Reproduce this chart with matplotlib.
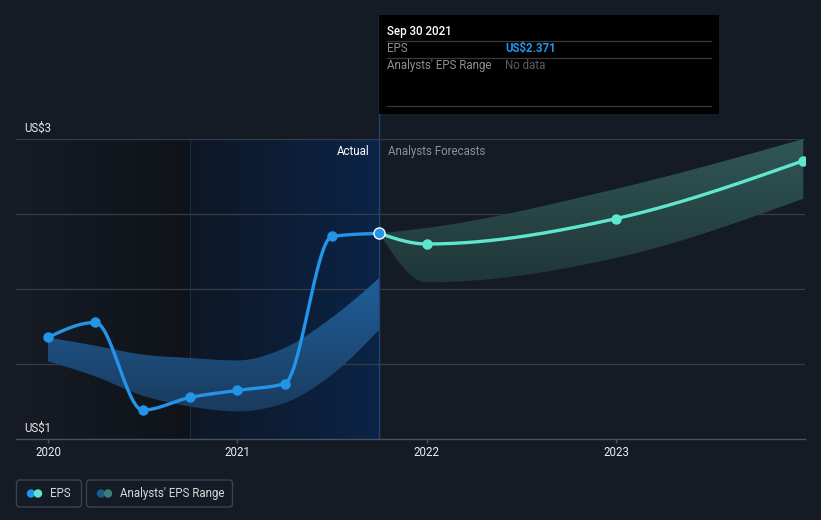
import numpy as np
import matplotlib
matplotlib.use("Agg")
import matplotlib.pyplot as plt
from matplotlib.patches import Rectangle, FancyBboxPatch, Circle
from matplotlib.colors import LinearSegmentedColormap

plt.rcParams['font.family'] = ['Roboto', 'DejaVu Sans']

# ---------------- data ----------------
eps_dates = [2020.0, 2020.25, 2020.5, 2020.75, 2021.0, 2021.25, 2021.5, 2021.75]
eps_values = [1.677, 1.777, 1.193, 1.277, 1.324, 1.369, 2.351, 2.371]

range_dates = [2020.0, 2020.25, 2020.5, 2020.75, 2021.0, 2021.25, 2021.5, 2021.75]
range_high = [1.677, 1.622, 1.563, 1.540, 1.524, 1.607, 1.810, 2.073]
range_low = [1.517, 1.417, 1.289, 1.217, 1.184, 1.240, 1.429, 1.729]

fc_dates = [2021.75, 2022.0, 2023.0, 2023.99]
fc_values = [2.371, 2.300, 2.469, 2.855]
fc_high = [2.371, 2.407, 2.667, 3.000]
fc_low = [2.371, 2.044, 2.207, 2.602]

x_ticks = [2020, 2021, 2022, 2023]
x_tick_labels = ['2020', '2021', '2022', '2023']
y_labels = {3.0: 'US$3', 1.0: 'US$1'}

BG = '#151b25'
BLUE = '#2394e8'
TEAL = '#5ee6cf'


def monotone(x, y, n=60):
    x = np.asarray(x, float)
    y = np.asarray(y, float)
    h = np.diff(x)
    s = np.diff(y) / h
    m = np.zeros_like(y)
    for i in range(1, len(x) - 1):
        if s[i - 1] * s[i] <= 0:
            m[i] = 0.0
        else:
            p = (s[i - 1] * h[i] + s[i] * h[i - 1]) / (h[i - 1] + h[i])
            m[i] = (np.sign(s[i - 1]) + np.sign(s[i])) * min(abs(s[i - 1]), abs(s[i]), 0.5 * abs(p))
    if len(x) > 2:
        m[0] = (3 * s[0] - m[1]) / 2
        m[-1] = (3 * s[-1] - m[-2]) / 2
    else:
        m[0] = m[-1] = s[0]
    xs, ys = [], []
    for i in range(len(x) - 1):
        t = np.linspace(0, 1, n, endpoint=(i == len(x) - 2))
        h00 = 2 * t**3 - 3 * t**2 + 1
        h10 = t**3 - 2 * t**2 + t
        h01 = -2 * t**3 + 3 * t**2
        h11 = t**3 - t**2
        xs.append(x[i] + t * h[i])
        ys.append(h00 * y[i] + h10 * h[i] * m[i] + h01 * y[i + 1] + h11 * h[i] * m[i + 1])
    return np.concatenate(xs), np.concatenate(ys)


W, H = 821, 520
fig = plt.figure(figsize=(W / 100, H / 100), dpi=100, facecolor=BG)

# axes in pixel layout: x 16..805, y 139..439
ax = fig.add_axes([16 / W, (H - 439) / H, 789 / W, 300 / H])
ax.set_facecolor(BG)
X0, X1 = 2019.831, 2023.999
ax.set_xlim(X0, X1)
ax.set_ylim(1.0, 3.0)

# shaded regions
cm_dark = LinearSegmentedColormap.from_list('d', ['#161b25', '#0f1319'])
ax.imshow(np.linspace(0, 1, 256)[None, :], extent=[X0, 2020.75, 1.0, 3.0], aspect='auto',
          cmap=cm_dark, zorder=0, interpolation='bilinear')
cm_blue = LinearSegmentedColormap.from_list('b', ['#0e1726', '#0b2446'])
ax.imshow(np.linspace(0, 1, 256)[None, :], extent=[2020.75, 2021.75, 1.0, 3.0], aspect='auto',
          cmap=cm_blue, zorder=0, interpolation='bilinear')
ax.axvline(2020.75, color='#1b2b44', lw=0.8, zorder=0.5)

# grid
for yv in [1.5, 2.0, 2.5, 3.0]:
    ax.axhline(yv, color='#363b45', lw=0.9, zorder=1)

# historical analysts range band
bx, bh = monotone(range_dates, range_high)
_, bl = monotone(range_dates, range_low)
poly = ax.fill_between(bx, bl, bh, color='none', lw=0, zorder=2)
cm_band = LinearSegmentedColormap.from_list('bb', ['#1a3a5c', '#1f609c'])
im = ax.imshow(np.linspace(0, 1, 256)[:, None], extent=[2020.0, 2021.75, 1.15, 2.1], aspect='auto',
               cmap=cm_band, origin='lower', zorder=2, interpolation='bilinear')
im.set_clip_path(poly.get_paths()[0], transform=ax.transData)

# forecast band
fx, fh = monotone(fc_dates, fc_high)
_, fl = monotone(fc_dates, fc_low)
poly2 = ax.fill_between(fx, fl, fh, color='none', lw=0, zorder=2)
cm_fc = LinearSegmentedColormap.from_list('ff', ['#1f3437', '#305755'])
im2 = ax.imshow(np.linspace(0, 1, 256)[:, None], extent=[2021.75, 2024.0, 2.0, 3.0], aspect='auto',
                cmap=cm_fc, origin='lower', zorder=2, interpolation='bilinear')
im2.set_clip_path(poly2.get_paths()[0], transform=ax.transData)
ax.set_xlim(X0, X1)
ax.set_ylim(1.0, 3.0)

# vertical marker line
ax.axvline(2021.75, ymin=0, ymax=(439 - 15) / 300, color='#1e4673', lw=1.0, zorder=3, clip_on=False)

# EPS lines
ex, ey = monotone(eps_dates, eps_values)
ax.plot(ex, ey, color=BLUE, lw=2.4, zorder=4, solid_capstyle='round')
ax.plot(eps_dates[:-1], eps_values[:-1], 'o', color=BLUE, ms=6.5, zorder=5)
gx, gy = monotone(fc_dates, fc_values)
ax.plot(gx, gy, color=TEAL, lw=2.4, zorder=4, solid_capstyle='round')
ax.plot(fc_dates[1:], fc_values[1:], 'o', color=TEAL, ms=6.5, zorder=5)
ax.plot([eps_dates[-1]], [eps_values[-1]], 'o', color=BLUE, ms=8, mec='white', mew=1.0, zorder=6,
        clip_on=False)

# labels Actual / Analysts Forecasts
ax.annotate('Actual', (2021.75, 3.0), xytext=(-7, -9), textcoords='offset points',
            ha='right', va='center', color='#ffffff', fontsize=8.3)
ax.annotate('Analysts Forecasts', (2021.75, 3.0), xytext=(6, -9), textcoords='offset points',
            ha='left', va='center', color='#8b9099', fontsize=8.3)

# y labels
for yv, lab in y_labels.items():
    ax.annotate(lab, (X0, yv), xytext=(6, 8), textcoords='offset points',
                ha='left', va='center', color='#e8e8e8', fontsize=8.3)

# axes styling
for sp in ['top', 'right', 'left']:
    ax.spines[sp].set_visible(False)
ax.spines['bottom'].set_color('#4c515b')
ax.spines['bottom'].set_linewidth(1.0)
ax.spines['bottom'].set_zorder(3)
ax.set_yticks([])
ax.set_xticks(x_ticks)
ax.set_xticklabels(x_tick_labels)
ax.tick_params(axis='x', colors='#4c515b', length=3, width=1, pad=2, labelsize=8.3,
               labelcolor='#eeeeee')

# ---------- overlay in pixel coordinates: tooltip & legend ----------
ov = fig.add_axes([0, 0, 1, 1], zorder=10)
ov.set_xlim(0, W)
ov.set_ylim(H, 0)
ov.axis('off')
ov.patch.set_alpha(0)

ov.add_patch(Rectangle((379, 15), 340, 99, facecolor='#000000', edgecolor='none'))
ov.text(387, 31, 'Sep 30 2021', color='#ffffff', fontsize=8.3, va='center', ha='left', fontweight='medium')
for yy in [40.5, 57.5, 106]:
    ov.plot([387, 711], [yy, yy], color='#3a3a3c', lw=0.9)
ov.text(387, 48.5, 'EPS', color='#8b9099', fontsize=8.3, va='center')
ov.text(505, 48.5, 'US$2.371', color=BLUE, fontsize=8.3, va='center', fontweight='bold')
ov.text(387, 65.5, "Analysts' EPS Range", color='#8b9099', fontsize=8.3, va='center')
ov.text(505, 65.5, 'No data', color='#5a5f66', fontsize=8.3, va='center')

# legend
ov.add_patch(FancyBboxPatch((16.5, 480), 65, 27, boxstyle='round,pad=0,rounding_size=3',
                            facecolor='none', edgecolor='#3d424b', lw=1))
ov.add_patch(FancyBboxPatch((86.5, 480), 146, 27, boxstyle='round,pad=0,rounding_size=3',
                            facecolor='none', edgecolor='#3d424b', lw=1))
ov.add_patch(Circle((31, 493.5), 4.2, color=BLUE, lw=0))
ov.add_patch(Circle((38, 493.5), 4.2, color=TEAL, lw=0))
ov.text(50, 493.5, 'EPS', color='#d8d8d8', fontsize=8.3, va='center')
ov.add_patch(Circle((101, 493.5), 4.2, color='#1d5a8a', lw=0))
ov.add_patch(Circle((108, 493.5), 4.2, color='#3a7e7a', lw=0))
ov.text(120, 493.5, "Analysts' EPS Range", color='#d8d8d8', fontsize=8.3, va='center')

fig.savefig('out.png', dpi=100, facecolor=BG)
